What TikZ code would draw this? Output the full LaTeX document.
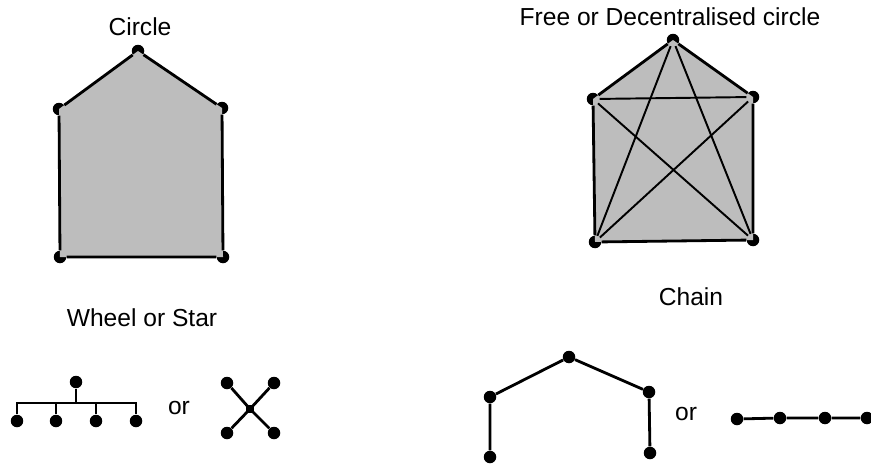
\documentclass[tikz,border=0pt]{standalone}
\usepackage{fontspec}
\setmainfont{Liberation Sans}
\usetikzlibrary{positioning}

\begin{document}
\begin{tikzpicture}[
  x=0.02cm, y=-0.02cm,
  dot/.style={circle, fill=black, inner sep=0pt, minimum size=0.25cm},
  link/.style={line width=1.6pt},
  thin link/.style={line width=1.1pt},
  title/.style={font=\fontsize{14}{16}\selectfont},
]
\useasboundingbox (0,0) rectangle (871,466);

% Circle
\node[title] (circlelbl) at (140,27) {Circle};
\node[dot] (c1) at (138,51) {};
\node[dot] (c2) at (59,109) {};
\node[dot] (c3) at (222,108) {};
\node[dot] (c4) at (60,257) {};
\node[dot] (c5) at (223,257) {};
\fill[black!26] (c1.center) -- (c3.center) -- (c5.center) -- (c4.center) -- (c2.center) -- cycle;
\draw[link] (c1) -- (c3) -- (c5) -- (c4) -- (c2) -- (c1);

% Free or decentralised circle
\node[title] (freelbl) at (670,17) {Free or Decentralised circle};
\node[dot] (f1) at (673,40) {};
\node[dot] (f2) at (593,99) {};
\node[dot] (f3) at (753,97) {};
\node[dot] (f4) at (595,242) {};
\node[dot] (f5) at (753,240) {};
\fill[black!26] (f1.center) -- (f3.center) -- (f5.center) -- (f4.center) -- (f2.center) -- cycle;
\draw[link] (f1) -- (f3) -- (f5) -- (f4) -- (f2) -- (f1);
\draw[thin link] (f2) -- (f3);
\draw[thin link] (f1) -- (f4);
\draw[thin link] (f1) -- (f5);
\draw[thin link] (f2) -- (f5);
\draw[thin link] (f3) -- (f4);

% Wheel or star
\node[title] (wheellbl) at (142,318) {Wheel or Star};
\node[dot] (w0) at (76,382) {};
\coordinate (wj) at (76,403);
\node[dot] (w1) at (17,421) {};
\node[dot] (w2) at (56,421) {};
\node[dot] (w3) at (96,421) {};
\node[dot] (w4) at (136,421) {};
\draw[link] (w0) -- (wj);
\draw[link] (w1) -- (w1 |- wj) -- (w4 |- wj) -- (w4);
\draw[link] (w2) -- (w2 |- wj);
\draw[link] (w3) -- (w3 |- wj);
\node[title] (or1) at (179,408) {or};
\coordinate (sc) at (250,409);
\node[dot] (s1) at (227,383) {};
\node[dot] (s2) at (274,383) {};
\node[dot] (s3) at (227,433) {};
\node[dot] (s4) at (274,433) {};
\draw[link] (s1) -- (sc) -- (s4);
\draw[link] (s2) -- (sc) -- (s3);
\fill (sc) ++(-4,-4) rectangle ++(8,8);

% Chain
\node[title] (chainlbl) at (691,297) {Chain};
\node[dot] (h1) at (490,457) {};
\node[dot] (h2) at (490,397) {};
\node[dot] (h3) at (569,357) {};
\node[dot] (h4) at (649,392) {};
\node[dot] (h5) at (650,453) {};
\draw[link] (h1) -- (h2) -- (h3) -- (h4) -- (h5);
\node[title] (or2) at (686,414) {or};
\node[dot] (l1) at (737,419) {};
\node[dot] (l2) at (780,418) {};
\node[dot] (l3) at (825,418) {};
\node[dot] (l4) at (867,418) {};
\draw[link] (l1) -- (l2) -- (l3) -- (l4);
\end{tikzpicture}
\end{document}
